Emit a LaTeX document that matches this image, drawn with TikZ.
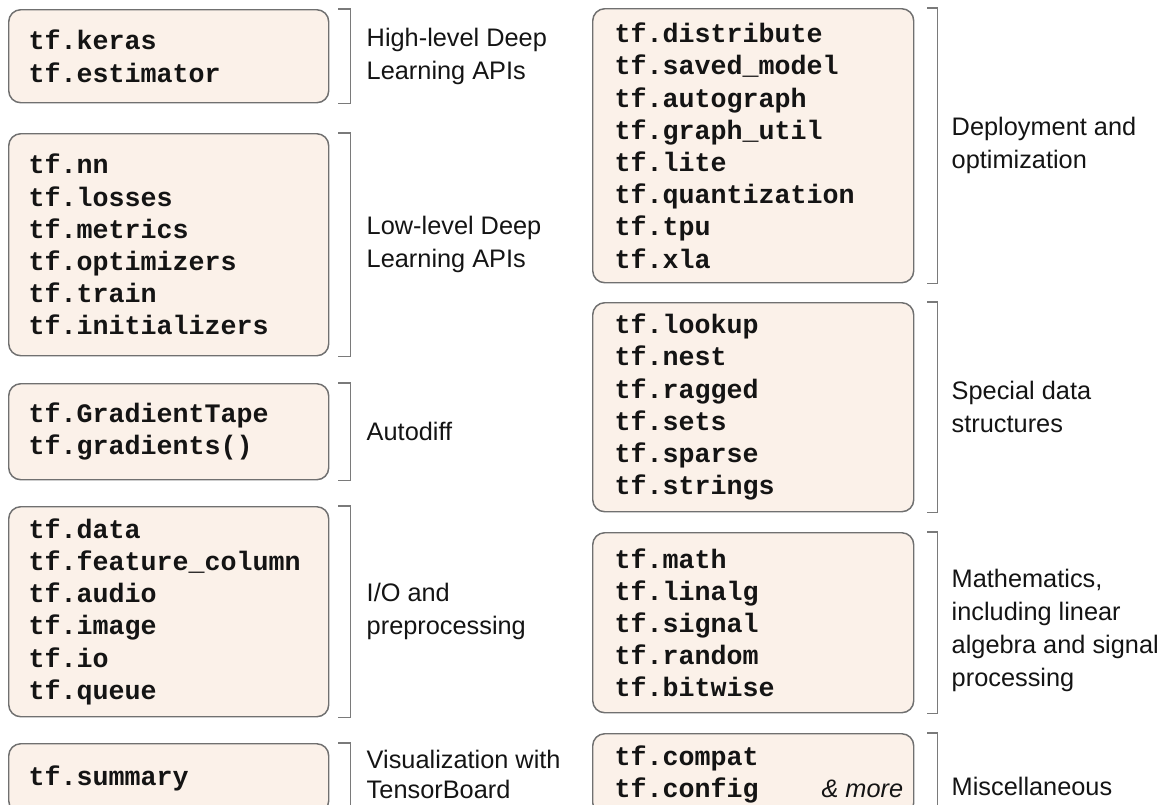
\documentclass[tikz,border=0pt]{standalone}
\usepackage{fontspec}
\setmainfont{Liberation Sans}
\setsansfont{Liberation Sans}
\setmonofont{Liberation Mono}
\usetikzlibrary{positioning,calc}

\definecolor{boxfill}{RGB}{251,241,233}
\definecolor{boxline}{RGB}{112,112,112}
\definecolor{rulegrey}{RGB}{122,122,122}
\definecolor{inkblack}{RGB}{20,20,20}

\begin{document}
\begin{tikzpicture}[
  x=0.75pt, y=-0.75pt,
  every node/.append style={font=\sffamily\fontsize{19}{24.75}\selectfont, text=inkblack},
  modbox/.style={draw=boxline, fill=boxfill, line width=1.1pt,
    rounded corners=9pt, anchor=north west, align=left, inner ysep=0pt,
    inner xsep=15pt, text width=210pt, minimum height=#1,
    font=\ttfamily\bfseries\fontsize{20}{24.15}\selectfont},
  widebox/.style={modbox=#1, inner xsep=16.5pt, text width=207.75pt},
  note/.style={anchor=west, align=left, inner sep=0pt},
  bracket/.style={draw=rulegrey, line width=0.9pt},
  moretag/.style={anchor=base east, inner sep=0pt,
    font=\sffamily\itshape\fontsize{19}{24.75}\selectfont},
]

\useasboundingbox (0,0) rectangle (1174,804);

% ------------------------------------------------------ left column
\node[modbox=69.75pt] (kerasbox) at (8,9)
  {tf.keras\\tf.estimator};
\node[modbox=166.5pt] (nnbox) at (8,133)
  {tf.nn\\tf.losses\\tf.metrics\\tf.optimizers\\tf.train\\tf.initializers};
\node[modbox=72pt] (diffbox) at (8,383)
  {tf.GradientTape\\tf.gradients()};
\node[modbox=157.5pt] (databox) at (8,506)
  {tf.data\\tf.feature\_column\\tf.audio\\tf.image\\tf.io\\tf.queue};
% runs off the bottom of the page, as in the book
\node[modbox=51.75pt] (summarybox) at (8,743) {tf.summary};

% ----------------------------------------------------- right column
\node[widebox=205.5pt] (deploybox) at (592,8)
  {tf.distribute\\tf.saved\_model\\tf.autograph\\tf.graph\_util\\tf.lite\\
   tf.quantization\\tf.tpu\\tf.xla};
\node[widebox=156.75pt] (structbox) at (592,302)
  {tf.lookup\\tf.nest\\tf.ragged\\tf.sets\\tf.sparse\\tf.strings};
\node[widebox=135pt] (mathbox) at (592,532)
  {tf.math\\tf.linalg\\tf.signal\\tf.random\\tf.bitwise};
\node[widebox=60.75pt] (miscbox) at (592,733)
  {tf.compat\\tf.config};
\node[moretag] (more) at ($(miscbox.north east)+(-11,64)$) {\& more};

% --------------------------------------------------------- brackets
% Left ones sit a little closer to their box than the right ones.
\foreach \b/\g/\w in {kerasbox/9/12, nnbox/9/12, diffbox/9/12, databox/9/12,
    summarybox/9/12, deploybox/13/10, structbox/13/10, mathbox/13/10,
    miscbox/13/10}{
  \draw[bracket] ($(\b.north east)+(\g,0)$) -- ++(\w,0)
    |- ($(\b.south east)+(\g,0)$);
}

% ----------------------------------------------------------- labels
\node[note, right=27.75pt of kerasbox] (kerasnote)
  {High-level Deep\\Learning APIs};
\node[note, right=27.75pt of nnbox] (nnnote)
  {Low-level Deep\\Learning APIs};
\node[note, right=27.75pt of diffbox] (diffnote) {Autodiff};
\node[note, right=27.75pt of databox] (datanote)
  {I/O and\\preprocessing};
% set a little tighter so that the second line stays on the page
\node[note, right=27.75pt of summarybox, yshift=3pt,
      font=\sffamily\fontsize{19}{22.5}\selectfont] (summarynote)
  {Visualization with\\TensorBoard};

\node[note, right=27.75pt of deploybox] (deploynote)
  {Deployment and\\optimization};
\node[note, right=27.75pt of structbox] (structnote)
  {Special data\\structures};
\node[note, right=27.75pt of mathbox, yshift=-5.6pt] (mathnote)
  {Mathematics,\\including linear\\algebra and signal\\processing};
\node[note, right=27.75pt of miscbox, yshift=-9pt] (miscnote)
  {Miscellaneous};

\end{tikzpicture}
\end{document}
